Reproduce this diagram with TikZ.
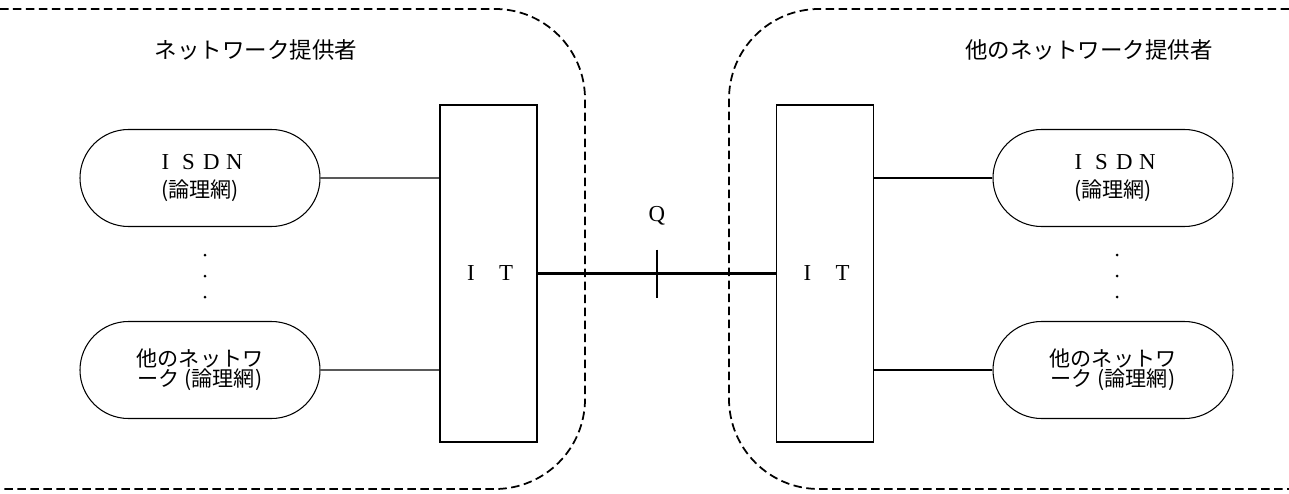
\documentclass[tikz,border=0pt]{standalone}
\usepackage{fontspec}
\setmainfont{Liberation Serif}
\newfontfamily\jp{Noto Sans CJK JP}
\usetikzlibrary{positioning,shapes.misc}

\newcommand{\fw}[1]{\makebox[0.46cm]{#1}}

\tikzset{
  provider/.style={line width=1pt, dash pattern=on 0.17cm off 0.09cm, rounded corners=1.8cm},
  heading/.style={font=\jp\fontsize{12.8pt}{14pt}\selectfont, inner sep=0pt},
  itbox/.style={draw, line width=0.6pt, minimum width=1.94cm, minimum height=6.74cm, inner sep=0pt, font=\fontsize{13pt}{15pt}\selectfont},
  net/.style={draw, line width=0.6pt, rounded rectangle, minimum width=4.8cm, minimum height=1.94cm, inner sep=0pt, align=center, font=\jp\fontsize{12pt}{11.5pt}\selectfont},
  link/.style={line width=0.6pt},
  qlink/.style={line width=1.2pt}
}

\begin{document}
\begin{tikzpicture}
  \useasboundingbox (0,0) rectangle (25.78,9.86);
  \draw[provider] (0,9.68) -- (11.7,9.68) -- (11.7,0.08) -- (0,0.08);
  \draw[provider] (25.78,9.68) -- (14.58,9.68) -- (14.58,0.08) -- (25.78,0.08);

  \node[heading] (provL) at (5.12,8.86) {ネットワーク提供者};
  \node[heading, anchor=east] (provR) at (24.26,8.86) {他のネットワーク提供者};

  \node[itbox] (itL) at (9.77,4.39) {\makebox[0.7cm]{I}\makebox[0.7cm]{T}};
  \node[itbox] (itR) at (16.5,4.39) {\makebox[0.7cm]{I}\makebox[0.7cm]{T}};

  \node[net] (isdnL) at (4,6.3) {{\rmfamily\fontsize{13pt}{13pt}\selectfont\fw{I}\fw{S}\fw{D}\fw{N}}\\[4pt](論理網)};
  \node[net] (otherL) at (4,2.46) {他のネットワ\\ーク (論理網)};
  \node[net] (isdnR) at (22.26,6.3) {{\rmfamily\fontsize{13pt}{13pt}\selectfont\fw{I}\fw{S}\fw{D}\fw{N}}\\[4pt](論理網)};
  \node[net] (otherR) at (22.26,2.46) {他のネットワ\\ーク (論理網)};

  \draw[link] (isdnL) -- (isdnL -| itL.west);
  \draw[link] (otherL) -- (otherL -| itL.west);
  \draw[link] (isdnR) -- (isdnR -| itR.east);
  \draw[link] (otherR) -- (otherR -| itR.east);

  \draw[qlink] (itL.east) -- coordinate (q) (itR.west);
  \draw[qlink] ([yshift=0.48cm]q) -- ([yshift=-0.48cm]q);
  \node[font=\fontsize{13pt}{15pt}\selectfont] (qlabel) at ([yshift=1.16cm]q) {Q};

  \foreach \y in {4.76,4.34,3.92} {
    \fill (4.1,\y) circle (0.03);
    \fill (22.34,\y) circle (0.03);
  }
\end{tikzpicture}
\end{document}
